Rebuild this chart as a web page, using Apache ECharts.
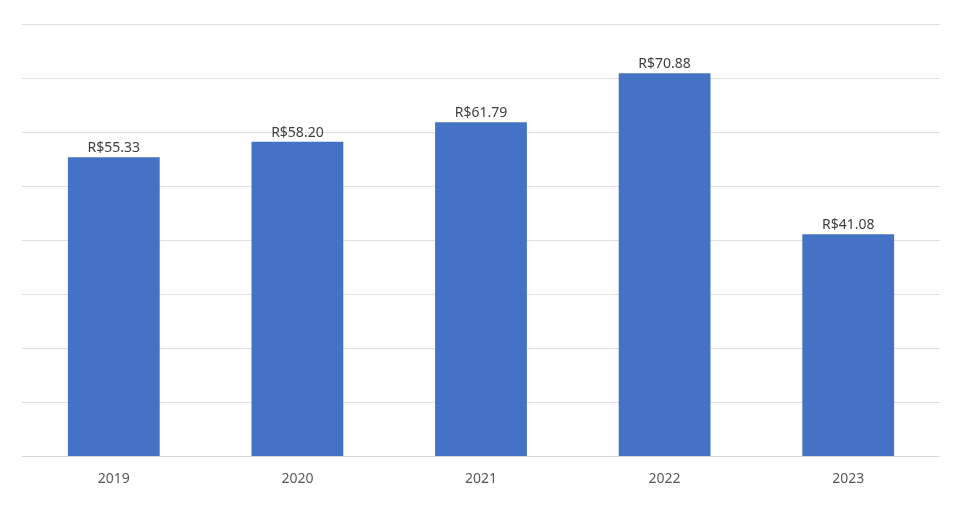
<!DOCTYPE html>
<html><head><meta charset="utf-8">
<script src="https://cdn.jsdelivr.net/npm/echarts@6/dist/echarts.min.js"></script>
<style>html,body{margin:0;padding:0;background:#fff}#c{width:960px;height:506px}</style>
</head><body><div id="c"></div>
<script>
const categories = ['2019','2020','2021','2022','2023'];
const values = [55.33, 58.20, 61.79, 70.88, 41.08];
const chart = echarts.init(document.getElementById('c'));
chart.setOption({
  animation:false,
  grid:{left:22,right:20,top:24,bottom:50},
  xAxis:{type:'category',data:categories,
    axisLine:{lineStyle:{color:'#d9d9d9'}},axisTick:{show:false},
    axisLabel:{color:'#595959',fontSize:14,fontFamily:'Noto Sans',margin:16}},
  yAxis:{type:'value',min:0,max:80,interval:10,axisLabel:{show:false},
    axisLine:{show:false},axisTick:{show:false},
    splitLine:{lineStyle:{color:'#e0e0e0'}}},
  series:[{type:'bar',data:values,barWidth:'50%',
    itemStyle:{color:'#4472c4'},
    label:{show:true,position:'top',distance:2,color:'#404040',fontSize:14,fontFamily:'Noto Sans',
      formatter:p=>'R$'+p.value.toFixed(2)}}]
});
</script></body></html>
